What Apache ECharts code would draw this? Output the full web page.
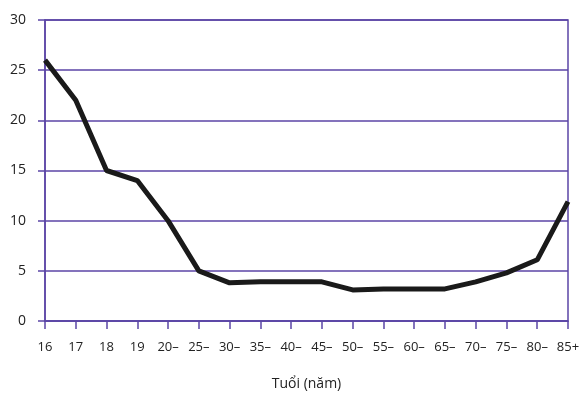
<!DOCTYPE html>
<html>
<head>
<meta charset="utf-8">
<script src="https://cdn.jsdelivr.net/npm/echarts@6/dist/echarts.min.js"></script>
<style>
  html, body { margin: 0; padding: 0; background: #fff; }
  #chart { width: 584px; height: 394px; }
</style>
</head>
<body>
<div id="chart"></div>
<script>
// data
var ageGroups = ['16', '17', '18', '19', '20–', '25–', '30–', '35–', '40–', '45–', '50–', '55–', '60–', '65–', '70–', '75–', '80–', '85+'];
var rates = [26, 22, 15, 14, 10, 5, 3.8, 3.9, 3.9, 3.9, 3.1, 3.2, 3.2, 3.2, 3.9, 4.8, 6.1, 11.9];

var purple = '#5b45a6';
var font = 'Open Sans';

function initChart() {
    var myChart = echarts.init(document.getElementById('chart'));
    var option = {
        animation: false,
        grid: {
            left: 45,
            right: 16,
            top: 20,
            bottom: 73,
            outerBoundsMode: 'none',
            show: true,
            borderColor: purple,
            borderWidth: 1.5
        },
        xAxis: {
            type: 'category',
            data: ageGroups,
            boundaryGap: false,
            name: 'Tuổi (năm)',
            nameLocation: 'middle',
            nameGap: 56,
            nameTextStyle: { fontSize: 14, color: '#222', fontFamily: font },
            axisLine: { lineStyle: { color: purple, width: 1.5 } },
            axisTick: { show: true, length: 8, lineStyle: { color: purple, width: 1.5 } },
            axisLabel: { fontSize: 13, color: '#222', fontFamily: font, margin: 20, interval: 0 }
        },
        yAxis: {
            type: 'value',
            min: 0,
            max: 30,
            interval: 5,
            axisLine: { show: true, lineStyle: { color: purple, width: 1.5 } },
            axisTick: { show: true, length: 7, lineStyle: { color: purple, width: 1.5 } },
            axisLabel: { fontSize: 14, color: '#222', fontFamily: font, margin: 19 },
            splitLine: { lineStyle: { color: purple, width: 1.5 } }
        },
        series: [{
            type: 'line',
            data: rates,
            symbol: 'none',
            lineStyle: { color: '#1a1a1a', width: 5 }
        }]
    };
    myChart.setOption(option);
}

initChart();
</script>
</body>
</html>
